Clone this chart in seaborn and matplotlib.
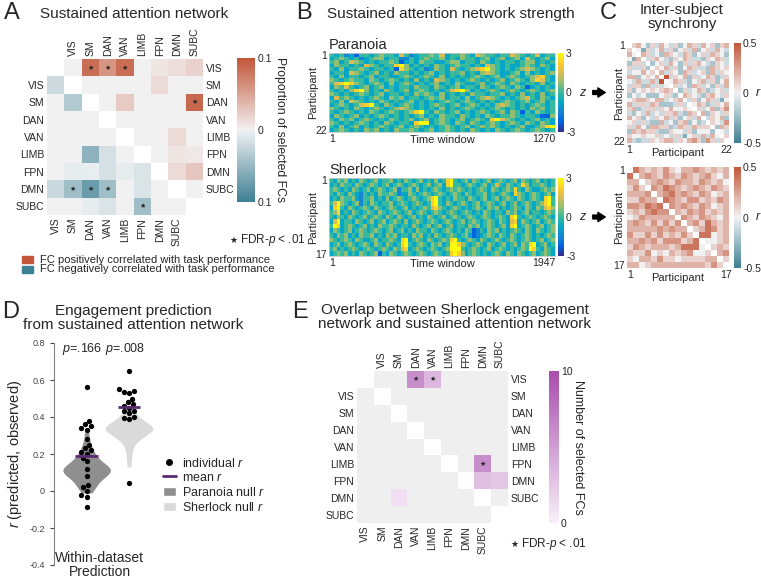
import numpy as np
import pandas as pd
import matplotlib
matplotlib.use("Agg")
import matplotlib.pyplot as plt
import seaborn as sns
from matplotlib.colors import ListedColormap
from matplotlib.patches import Rectangle, Patch, FancyArrowPatch
from matplotlib.lines import Line2D

sns.set_style("white")
plt.rcParams["font.family"] = ["Liberation Sans", "DejaVu Sans"]
plt.rcParams["mathtext.fontset"] = "custom"
plt.rcParams["mathtext.rm"] = "Liberation Sans"
plt.rcParams["mathtext.it"] = "Liberation Sans:italic"
plt.rcParams["axes.unicode_minus"] = False

# ---------------------------------------------------------------- data
networks = ["VIS", "SM", "DAN", "VAN", "LIMB", "FPN", "DMN", "SUBC"]

# Panel A: proportion of selected FCs; positive network (rows i, cols j>=i)
A_pos_rows = [
    [0.0, 0.085, 0.06, 0.085, 0.0, 0.008, 0.012, 0.02],
    [0.0, 0.0, 0.0, 0.0, 0.015, 0.0, 0.0],
    [0.0, 0.025, 0.0, 0.0, 0.0, 0.088],
    [0.0, 0.0, 0.0, 0.0, 0.0],
    [0.0, 0.0, 0.015, 0.0],
    [0.0, 0.008, 0.006],
    [0.015, 0.028],
    [0.0],
]
# negative network (rows i, cols j<=i)
A_neg_rows = [
    [0.02],
    [0.0, 0.035],
    [0.0, 0.0, 0.0],
    [0.0, 0.0, 0.0, 0.0],
    [0.0, 0.0, 0.055, 0.015, 0.0],
    [0.0, 0.006, 0.004, 0.015, 0.006, 0.012],
    [0.022, 0.045, 0.075, 0.045, 0.0, 0.012, 0.0],
    [0.0, 0.0, 0.005, 0.012, 0.0, 0.045, 0.0, 0.0],
]
A_pos_sig = [("VIS", "SM"), ("VIS", "DAN"), ("VIS", "VAN"), ("DAN", "SUBC")]
A_neg_sig = [("DMN", "SM"), ("DMN", "DAN"), ("DMN", "VAN"), ("SUBC", "FPN")]

# Panel E: number of overlapping selected FCs
E_pos_rows = [
    [0, 0, 6, 3.5, 0, 0, 0, 0],
    [0, 0, 0, 0, 0, 0, 0],
    [0, 0, 0, 0, 0, 0],
    [0, 0, 0, 0, 0],
    [0, 0, 0, 0],
    [0, 6, 0],
    [3, 2.5],
    [0],
]
E_neg_rows = [
    [0],
    [0, 0],
    [0, 0, 0],
    [0, 0, 0, 0],
    [0, 0, 0, 0, 0],
    [0, 0, 0, 0, 0, 0],
    [0, 0, 1, 0, 0, 0, 0],
    [0, 0, 0, 0, 0, 0, 0, 0],
]
E_pos_sig = [("VIS", "DAN"), ("VIS", "VAN"), ("FPN", "DMN")]

# Panel B: network strength (coded 0..8 -> z = (code-4)*0.75)
paranoia_strength = [
    "43423 14434 54436 42344 54634 45436 54434 46543 46344",
    "34543 42345 53442 24345 44534 35443 45345 34536 43453",
    "45346 54343 44541 34354 43345 53443 54343 44345 53434",
    "35443 43654 34478 53434 35434 54434 36543 43345 43543",
    "43534 45434 43417 54342 35436 43456 78543 43456 54343",
    "34436 54345 34354 43434 53434 45343 56543 34535 34345",
    "43534 43453 44334 54345 43534 34345 43453 45434 56743",
    "54345 44354 34543 43534 36543 43454 34345 34543 57643",
    "46787 54345 43534 54343 45343 54334 53454 35434 43534",
    "35464 34534 53434 43544 35434 53443 54345 43541 34343",
    "43435 78534 35434 53454 34346 78534 34543 45434 54345",
    "54343 45434 53443 43545 43534 34354 43445 34353 43534",
    "36454 34345 43545 34434 54534 43534 56543 43456 43543",
    "43536 54343 54343 45343 43454 34543 43434 54345 34534",
    "34543 46784 35434 54343 45434 53454 34356 54343 45434",
    "54343 54345 43456 54343 43534 34543 43454 34343 54534",
    "43454 34354 34543 45784 35434 53434 54345 35414 35434",
    "35434 53434 54343 43453 43544 35434 35434 45434 43115",
    "43545 34543 43543 45345 34543 45345 43786 54343 45343",
    "54343 45434 35434 43788 34543 54354 34543 45435 43543",
    "43534 53434 54345 34543 43454 34534 54543 43453 34578",
    "34543 43545 34354 45434 53454 34354 34354 34543 45434",
]
sherlock_strength = [
    "43545 34354 34534 45343 54345 34353 47843 45354 34534 54345 35434 53434",
    "34354 43543 45434 53454 34543 45345 37844 34543 45346 43543 47534 45434",
    "45434 35434 53454 34524 45353 43454 34545 43434 54354 34547 43543 34545",
    "43543 54324 34354 45423 35434 54345 43454 35434 45343 45437 54345 43453",
    "34354 45324 45343 53454 34543 45784 34354 43543 45345 34543 54345 43784",
    "46854 34524 35434 45345 43454 34784 35434 54345 34543 45345 34543 45784",
    "37843 54345 43543 45434 53434 54675 43454 34345 43545 34345 43543 54675",
    "45734 35434 54354 34543 45345 43454 34543 45434 35434 43545 34534 43454",
    "43543 54345 34543 54354 34534 35434 53454 34543 45434 54378 43454 34543",
    "36834 43543 45345 34543 53454 34543 45434 53454 34543 54367 35434 53454",
    "48734 54345 34354 45434 43543 45345 34534 43545 34543 45378 34543 45345",
    "35434 53454 34543 45345 34354 43543 45434 35412 43545 34345 43543 54345",
    "43545 34354 45343 54534 43545 34354 34543 45312 34543 54354 34543 43454",
    "54345 43543 34534 45437 83454 35434 54784 34543 54345 43454 34543 45345",
    "34534 54345 43543 54347 84345 43545 34887 54345 43543 45345 35478 34534",
    "45343 45434 54345 43546 73454 34543 45888 43454 34534 54343 45487 43543",
    "34545 34354 34514 35434 54345 43454 34787 53454 34345 43543 54345 34543",
]
paranoia_windows = 1270
sherlock_windows = 1947

# Panel C: inter-subject synchrony (upper triangle, a=-0.5 ... f=0 ... k=0.5)
paranoia_isc = [
    "ghfdgehfegdfhgehfgdgh", "fcgefhegdfgehdfgehfe", "hgefdhgfehgdfgehgfd",
    "eghfedgfhgeedgfhge", "dfgehfdgeghfedgfe", "gfhegdfhgeedhgfg",
    "hegfdhgefgdhegf", "kegfhdgefhgdeg", "fhgedfghegdfh", "gefdhgefdgeh",
    "dgefhgdefge", "hgfedghfeg", "egdfhgecf", "fhgdegfh", "gefhdgi",
    "hdgfeg", "egfhd", "gfei", "dhg", "fe", "g",
]
sherlock_isc = [
    "jhghgigfhhihghgh", "hihgihgihghigfh", "ghihgihhgihghf", "ihjihghihgihg",
    "hijhihgihfgh", "jihgiighgih", "ihihgihfgh", "hgihighgh", "ihgihgfh",
    "higjhgh", "ghjigh", "jjfgh", "ffgh", "ghg", "hi", "g",
]

# Panel D: engagement prediction
datasets = ["Paranoia", "Sherlock"]
paranoia_r = [0.56, 0.38, 0.36, 0.35, 0.34, 0.33, 0.28, 0.25, 0.23, 0.22, 0.21,
              0.20, 0.18, 0.16, 0.12, 0.08, 0.03, 0.02, 0.0, -0.02, -0.03, -0.085]
sherlock_r = [0.65, 0.55, 0.54, 0.535, 0.53, 0.50, 0.48, 0.47, 0.46, 0.45, 0.435,
              0.43, 0.42, 0.40, 0.395, 0.39, 0.045]
paranoia_null = [-0.01, 0.0, 0.02, 0.03, 0.04, 0.05, 0.06, 0.07, 0.08, 0.08, 0.09,
                 0.09, 0.10, 0.10, 0.11, 0.11, 0.11, 0.12, 0.12, 0.12, 0.13, 0.13,
                 0.14, 0.14, 0.15, 0.16, 0.17, 0.18, 0.19, 0.20, 0.22, 0.24, 0.27, 0.32]
sherlock_null = [0.13, 0.18, 0.22, 0.25, 0.27, 0.28, 0.29, 0.30, 0.31, 0.31, 0.32,
                 0.32, 0.33, 0.33, 0.33, 0.34, 0.34, 0.34, 0.35, 0.35, 0.35, 0.36,
                 0.36, 0.37, 0.38, 0.39, 0.40, 0.41, 0.43, 0.46]
p_values = [".166", ".008"]

# ---------------------------------------------------------------- helpers
W, H = 761, 578
fig = plt.figure(figsize=(W / 100, H / 100), dpi=100)


def R(x0, y0, x1, y1):
    return [x0 / W, 1 - y1 / H, (x1 - x0) / W, (y1 - y0) / H]


def T(x, y, s, **kw):
    return fig.text(x / W, 1 - y / H, s, **kw)


def build_grid(pos_rows, neg_rows, neg_sign):
    g = np.full((9, 9), np.nan)
    for i, row in enumerate(pos_rows):
        for k, v in enumerate(row):
            g[i, i + k + 1] = v
    for i, row in enumerate(neg_rows):
        for j, v in enumerate(row):
            g[i + 1, j] = neg_sign * v
    return g


def matrix_labels(ax, fs=7.5):
    ax.set_xticks(np.arange(8) + 0.5)
    ax.set_xticklabels(networks, rotation=90, fontsize=fs)
    ax.set_yticks(np.arange(1, 9) + 0.5)
    ax.set_yticklabels(networks, rotation=0, fontsize=fs)
    ax.tick_params(length=0, pad=2)
    top = ax.secondary_xaxis("top")
    top.set_ticks(np.arange(1, 9) + 0.5, labels=networks, rotation=90, fontsize=fs)
    top.tick_params(length=0, pad=2)
    right = ax.secondary_yaxis("right")
    right.set_ticks(np.arange(8) + 0.5, labels=networks, fontsize=fs)
    right.tick_params(length=0, pad=2)
    for sec in (top, right):
        for s in sec.spines.values():
            s.set_visible(False)


def decode_strength(rows):
    rr = [r.replace(" ", "") for r in rows]
    n = min(len(r) for r in rr)
    return np.array([[(int(c) - 4) * 0.75 for c in r[:n]] for r in rr])


def decode_isc(rows, n):
    m = np.full((n, n), np.nan)
    for i in range(n - 1):
        s = rows[i] if i < len(rows) else ""
        for k in range(n - 1 - i):
            c = s[k] if k < len(s) else "f"
            v = (ord(c) - ord("f")) * 0.1
            m[i, i + k + 1] = v
            m[i + k + 1, i] = v
    return m


def add_arrow(yc):
    fig.add_artist(FancyArrowPatch((590 / W, 1 - yc / H), (608 / W, 1 - yc / H),
                                   transform=fig.transFigure,
                                   arrowstyle="simple,head_length=0.75,head_width=0.95,tail_width=0.4",
                                   mutation_scale=7, color="black"))


div_cmap = sns.diverging_palette(220, 20, as_cmap=True)
parula = sns.blend_palette(
    [(0.2081, 0.1663, 0.5292), (0.0117, 0.3875, 0.8820), (0.0793, 0.5200, 0.8312),
     (0.0228, 0.6535, 0.7768), (0.2178, 0.7250, 0.6193), (0.5709, 0.7485, 0.4494),
     (0.8507, 0.7299, 0.3360), (0.9880, 0.8066, 0.1794), (0.9763, 0.9831, 0.0538)],
    as_cmap=True)
purple_cmap = sns.blend_palette(["#f8f0f8", "#a84cae"], as_cmap=True)

# ---------------------------------------------------------------- panel A
gridA = build_grid(A_pos_rows, A_neg_rows, -1)
axA = fig.add_axes(R(47, 59, 203, 215))
caxA = fig.add_axes(R(237, 58, 255, 202))
sns.heatmap(gridA, ax=axA, cmap=div_cmap, vmin=-0.1, vmax=0.1, cbar_ax=caxA,
            xticklabels=False, yticklabels=False)
matrix_labels(axA)
for a, b in A_pos_sig:
    i, j = networks.index(a), networks.index(b)
    axA.text(j + 1.5, i + 0.5, "★", ha="center", va="center", fontsize=5,
             family="DejaVu Sans")
for a, b in A_neg_sig:
    i, j = networks.index(a), networks.index(b)
    axA.text(j + 0.5, i + 1.5, "★", ha="center", va="center", fontsize=5,
             family="DejaVu Sans")
cbA = axA.collections[0].colorbar
cbA.set_ticks([-0.1, 0, 0.1])
cbA.set_ticklabels(["0.1", "0", "0.1"])
cbA.outline.set_visible(False)
caxA.tick_params(length=0, labelsize=7.5, pad=2)
caxA.set_ylabel("Proportion of selected FCs", rotation=270, fontsize=8.8)
caxA.yaxis.set_label_coords(2.4, 0.5)
caxA.yaxis.label.set_va("center")

T(4, 2, "A", fontsize=17, va="top")
T(40, 14, "Sustained attention network", fontsize=11, va="center")
T(233, 240, "★", fontsize=6.5, family="DejaVu Sans", va="center", ha="center")
T(240, 240, "FDR-$p$ < .01", fontsize=8.5, va="center")
fig.add_artist(Rectangle((22 / W, 1 - 263 / H), 11 / W, 7 / H,
                         transform=fig.transFigure, color=div_cmap(1.0)))
fig.add_artist(Rectangle((22 / W, 1 - 273 / H), 11 / W, 7 / H,
                         transform=fig.transFigure, color=div_cmap(0.0)))
T(40, 259.5, "FC positively correlated with task performance", fontsize=8, va="center")
T(40, 269.5, "FC negatively correlated with task performance", fontsize=8, va="center")

# ---------------------------------------------------------------- panel B
T(296, 2, "B", fontsize=17, va="top")
T(327, 14, "Sustained attention network strength", fontsize=11, va="center")

B_specs = [
    ("Paranoia", paranoia_strength, paranoia_windows, 53, 132, 45),
    ("Sherlock", sherlock_strength, sherlock_windows, 178, 256, 170),
]
for name, rows, nwin, y0, y1, ty in B_specs:
    data = decode_strength(rows)
    ax = fig.add_axes(R(329, y0, 555, y1))
    cax = fig.add_axes(R(558, y0, 564, y1))
    sns.heatmap(data, ax=ax, cmap=parula, vmin=-3, vmax=3, cbar_ax=cax,
                xticklabels=False, yticklabels=False)
    nr, nc = data.shape
    ax.set_xticks([0, nc])
    ax.set_xticklabels(["1", str(nwin)], fontsize=7.5, rotation=0)
    labs = ax.get_xticklabels()
    labs[0].set_ha("left")
    labs[-1].set_ha("right")
    ax.set_yticks([0.5, nr - 0.5])
    ax.set_yticklabels(["1", str(nr)], fontsize=7.5, rotation=0)
    ax.tick_params(length=0, pad=1.5)
    ax.set_xlabel("Time window", fontsize=8)
    ax.xaxis.set_label_coords(0.5, -8 / (y1 - y0))
    ax.xaxis.label.set_va("center")
    ax.set_ylabel("Participant", fontsize=8)
    ax.yaxis.set_label_coords(-16 / 226, 0.5)
    ax.yaxis.label.set_va("center")
    for s in ax.spines.values():
        s.set_visible(True)
        s.set_color("#c8c8c8")
        s.set_linewidth(0.6)
    cb = ax.collections[0].colorbar
    cb.set_ticks([-3, 0, 3])
    cb.set_ticklabels(["-3", "0", "3"])
    cb.outline.set_visible(False)
    cax.tick_params(length=0, labelsize=7.5, pad=1.5)
    cax.set_ylabel("$z$", rotation=0, fontsize=9)
    cax.yaxis.set_label_coords(25 / 6, 0.5)
    cax.yaxis.label.set_va("center")
    cax.yaxis.label.set_ha("center")
    T(329, ty, name, fontsize=10.5, va="center")
    add_arrow((y0 + y1) / 2)

# ---------------------------------------------------------------- panel C
T(600, 2, "C", fontsize=17, va="top")
T(682, 17, "Inter-subject\nsynchrony", fontsize=11, va="center", ha="center",
  linespacing=1.0)
C_specs = [(paranoia_isc, 22, 43, 143), (sherlock_isc, 17, 167, 268)]
for rows, n, y0, y1 in C_specs:
    m = decode_isc(rows, n)
    ax = fig.add_axes(R(627, y0, 729, y1))
    cax = fig.add_axes(R(734, y0, 741, y1))
    sns.heatmap(m, ax=ax, cmap=div_cmap, vmin=-0.5, vmax=0.5, cbar_ax=cax,
                xticklabels=False, yticklabels=False)
    ax.set_xticks([0.5, n - 0.5])
    ax.set_xticklabels(["1", str(n)], fontsize=7.5, rotation=0)
    ax.set_yticks([0.5, n - 0.5])
    ax.set_yticklabels(["1", str(n)], fontsize=7.5, rotation=0)
    ax.tick_params(length=0, pad=1.5)
    ax.set_xlabel("Participant", fontsize=8)
    ax.xaxis.set_label_coords(0.5, -10 / (y1 - y0))
    ax.xaxis.label.set_va("center")
    ax.set_ylabel("Participant", fontsize=8)
    ax.yaxis.set_label_coords(-8 / 102, 0.5)
    ax.yaxis.label.set_va("center")
    cb = ax.collections[0].colorbar
    cb.set_ticks([-0.5, 0, 0.5])
    cb.set_ticklabels(["-0.5", "0", "0.5"])
    cb.outline.set_visible(False)
    cax.tick_params(length=0, labelsize=7.5, pad=1.5)
    cax.set_ylabel("$r$", rotation=0, fontsize=9)
    cax.yaxis.set_label_coords(24 / 7, 0.5)
    cax.yaxis.label.set_va("center")
    cax.yaxis.label.set_ha("center")

# ---------------------------------------------------------------- panel D
T(2, 301, "D", fontsize=17, va="top")
T(133, 318, "Engagement prediction\nfrom sustained attention network", fontsize=11,
  va="center", ha="center", linespacing=1.0)
null_df = pd.DataFrame({
    "dataset": [datasets[0]] * len(paranoia_null) + [datasets[1]] * len(sherlock_null),
    "r": paranoia_null + sherlock_null})
obs_df = pd.DataFrame({
    "dataset": [datasets[0]] * len(paranoia_r) + [datasets[1]] * len(sherlock_r),
    "r": paranoia_r + sherlock_r})
null_colors = {"Paranoia": "#8f8f8f", "Sherlock": "#dadada"}
axD = fig.add_axes(R(54, 343, 160, 565))
sns.violinplot(data=null_df, x="dataset", y="r", hue="dataset", order=datasets,
               hue_order=datasets, palette=null_colors, inner=None, linewidth=0,
               cut=0, density_norm="area", width=1.12, bw_adjust=0.8, saturation=1,
               legend=False, ax=axD)
sns.swarmplot(data=obs_df, x="dataset", y="r", order=datasets, color="black",
              size=3.8, ax=axD, zorder=3)
mean_color = "#5b2a6e"
for i, name in enumerate(datasets):
    m = obs_df.loc[obs_df["dataset"] == name, "r"].mean()
    axD.hlines(m, i - 0.27, i + 0.27, color=mean_color, lw=2, zorder=5)
    axD.text(i - 0.1, 0.765, f"$p$={p_values[i]}", ha="center", va="center",
             fontsize=9)
axD.set_xlim(-0.77, 1.73)
axD.set_ylim(-0.4, 0.8)
yt = [-0.4, -0.2, 0.0, 0.2, 0.4, 0.6, 0.8]
axD.set_yticks(yt)
axD.set_yticklabels(["-0.4", "-0.2", "0", "0.2", "0.4", "0.6", "0.8"])
axD.tick_params(axis="y", labelsize=6.5, colors="#444444", length=3, width=0.8,
                left=True)
axD.set_xticks([])
axD.set_xlabel("")
sns.despine(ax=axD, bottom=True)
axD.spines["left"].set_color("#808080")
axD.set_ylabel("$r$ (predicted, observed)", fontsize=10.5)
axD.yaxis.set_label_coords(-0.37, 0.5)
axD.yaxis.label.set_va("center")
axD.text(0.31, -0.4, "Within-dataset\nPrediction", ha="center", va="center",
         fontsize=10, linespacing=1.0)
handles = [Line2D([], [], marker="o", color="black", linestyle="None", markersize=4),
           Line2D([], [], color=mean_color, lw=2),
           Patch(facecolor=null_colors["Paranoia"]),
           Patch(facecolor=null_colors["Sherlock"])]
labels = ["individual $r$", "mean $r$", "Paranoia null $r$", "Sherlock null $r$"]
axD.legend(handles, labels, loc="upper left", bbox_to_anchor=(163 / W, 1 - 457 / H),
           bbox_transform=fig.transFigure, frameon=False, fontsize=9,
           handlelength=1.0, handleheight=0.8, handletextpad=0.5, labelspacing=0.15,
           borderaxespad=0, borderpad=0)

# ---------------------------------------------------------------- panel E
T(292, 301, "E", fontsize=17, va="top")
T(455, 317, "Overlap between Sherlock engagement\nnetwork and sustained attention network",
  fontsize=11, va="center", ha="center", linespacing=1.0)
gridE = build_grid(E_pos_rows, E_neg_rows, 1)
axE = fig.add_axes(R(357, 371, 508, 523))
caxE = fig.add_axes(R(549, 371, 559, 523))
sns.heatmap(np.where(np.isnan(gridE), np.nan, 0.0), ax=axE,
            cmap=ListedColormap(["#efefef"]), cbar=False,
            xticklabels=False, yticklabels=False)
sns.heatmap(np.where(gridE > 0, gridE, np.nan), ax=axE, cmap=purple_cmap,
            vmin=0, vmax=10, cbar_ax=caxE, xticklabels=False, yticklabels=False)
matrix_labels(axE)
for a, b in E_pos_sig:
    i, j = networks.index(a), networks.index(b)
    axE.text(j + 1.5, i + 0.5, "★", ha="center", va="center", fontsize=5,
             family="DejaVu Sans")
cbE = axE.collections[-1].colorbar
cbE.set_ticks([0, 10])
cbE.set_ticklabels(["0", "10"])
cbE.outline.set_visible(False)
caxE.tick_params(length=0, labelsize=7.5, pad=1.5)
caxE.set_ylabel("Number of selected FCs", rotation=270, fontsize=9)
caxE.yaxis.set_label_coords(2.9, 0.5)
caxE.yaxis.label.set_va("center")
T(514, 544, "★", fontsize=6.5, family="DejaVu Sans", va="center", ha="center")
T(521, 544, "FDR-$p$ < .01", fontsize=8.5, va="center")

fig.savefig("out.png", dpi=100)
